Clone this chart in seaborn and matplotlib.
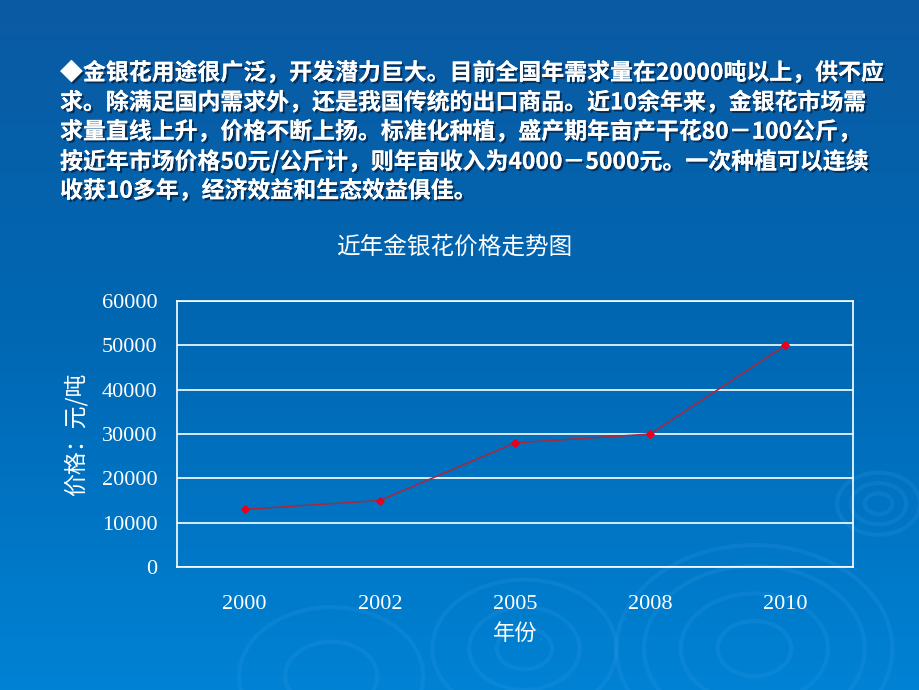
import numpy as np
import pandas as pd
import matplotlib.pyplot as plt
import matplotlib.patheffects as pe
from matplotlib.patches import Circle
from matplotlib.colors import LinearSegmentedColormap
import seaborn as sns

# chart data
years = ['2000', '2002', '2005', '2008', '2010']
prices = [13000, 15000, 28000, 30000, 50000]
y_ticks = [0, 10000, 20000, 30000, 40000, 50000, 60000]

intro_lines = [
    '◆金银花用途很广泛，开发潜力巨大。目前全国年需求量在20000吨以上，供不应',
    '求。除满足国内需求外，还是我国传统的出口商品。近10余年来，金银花市场需',
    '求量直线上升，价格不断上扬。标准化种植，盛产期年亩产干花80－100公斤，',
    '按近年市场价格50元/公斤计，则年亩收入为4000－5000元。一次种植可以连续',
    '收获10多年，经济效益和生态效益俱佳。',
]

df = pd.DataFrame({'year': years, 'price': prices})

sns.set_style('white')
plt.rcParams['font.family'] = ['Noto Sans CJK SC', 'DejaVu Sans']
cjk = ['Noto Sans CJK SC', 'DejaVu Sans']
serif = ['Liberation Serif', 'DejaVu Serif']

fig = plt.figure(figsize=(9.2, 6.9), dpi=100)

# slide background: vertical blue gradient with a few faint rings
bg = fig.add_axes([0, 0, 1, 1], zorder=0)
cmap = LinearSegmentedColormap.from_list('slide', ['#0a5aa2', '#0068b4', '#0082d4'])
grad = np.linspace(0, 1, 256).reshape(-1, 1)
bg.imshow(grad, aspect='auto', cmap=cmap, extent=[0, 1, 0, 1], origin='upper')
for cx, cy, rads in [(0.955, 0.27, [0.015, 0.03, 0.045]),
                     (0.82, 0.06, [0.04, 0.08, 0.12, 0.15]),
                     (0.57, 0.06, [0.03, 0.06, 0.1]),
                     (0.36, 0.02, [0.05, 0.1])]:
    for r in rads:
        bg.add_patch(Circle((cx, cy), r, transform=bg.transAxes, fill=False,
                            ec='#3aa0ec', lw=3, alpha=0.18))
bg.set_xlim(0, 1)
bg.set_ylim(0, 1)
bg.axis('off')

# intro paragraph
shadow = [pe.withSimplePatchShadow(offset=(1.5, -1.5), shadow_rgbFace='#062a50', alpha=0.9), pe.Normal()]
for i, line in enumerate(intro_lines):
    fig.text(60 / 920, 1 - (73 + i * 29.5) / 690, line, color='white', fontsize=16.5,
             fontweight='bold', family=cjk, va='center', ha='left', path_effects=shadow)

# price chart
ax = fig.add_axes([177 / 920, 1 - 567 / 690, 676 / 920, 266 / 690], zorder=1)
ax.patch.set_alpha(0)
sns.lineplot(data=df, x='year', y='price', sort=False, ax=ax, color='#a8283c', lw=1.1,
             marker='D', markersize=4, markerfacecolor='#e8001c', markeredgecolor='#e8001c')

ax.set_xlim(-0.5, len(years) - 0.5)
ax.set_ylim(0, 60000)
ax.set_yticks(y_ticks)
ax.set_yticklabels([str(v) for v in y_ticks], family=serif, fontsize=16, color='white')
ax.set_xticks(range(len(years)))
ax.set_xticklabels(years, family=serif, fontsize=16, color='white')
ax.set_xticks(np.arange(0.5, len(years) - 0.5, 1), minor=True)
ax.tick_params(axis='both', which='major', length=0)
ax.tick_params(axis='y', pad=14)
ax.tick_params(axis='x', pad=20)
ax.tick_params(axis='x', which='minor', direction='in', length=8, width=1.2, color='white')

ax.grid(axis='y', color='white', lw=1.2)
ax.grid(axis='x', visible=False)
for s in ax.spines.values():
    s.set_color('white')
    s.set_linewidth(1.2)

fig.text(454 / 920, 1 - 247 / 690, '近年金银花价格走势图', family=cjk, fontsize=17,
         color='white', ha='center', va='center')
ax.set_xlabel('年份', family=cjk, fontsize=16, color='white', labelpad=6)
ax.set_ylabel('价格：元/吨', family=cjk, fontsize=16.5, color='white', labelpad=10)

fig.savefig('out.png', dpi=100)
